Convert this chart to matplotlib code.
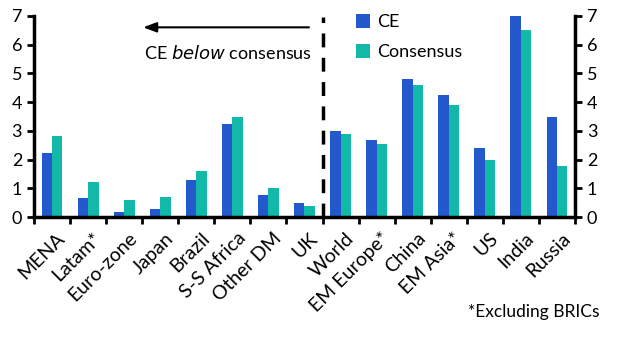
import matplotlib.pyplot as plt
import numpy as np

plt.rcParams['font.family'] = ['Lato', 'DejaVu Sans']

categories = ['MENA', 'Latam*', 'Euro-zone', 'Japan', 'Brazil', 'S-S Africa', 'Other DM', 'UK',
              'World', 'EM Europe*', 'China', 'EM Asia*', 'US', 'India', 'Russia']
ce = [2.22, 0.66, 0.17, 0.28, 1.29, 3.23, 0.77, 0.49,
      2.99, 2.68, 4.80, 4.24, 2.40, 7.0, 3.48]
consensus = [2.82, 1.22, 0.59, 0.70, 1.60, 3.48, 1.01, 0.38,
             2.89, 2.54, 4.59, 3.89, 1.98, 6.50, 1.77]

CE_COL = '#2359cd'
CONS_COL = '#12b8a8'

fig = plt.figure(figsize=(6.17, 3.37), dpi=100)
ax = fig.add_axes([0.055, 0.356, 0.877, 0.597])

x = np.arange(len(categories))
w = 0.29
ax.bar(x - w / 2, ce, w, color=CE_COL, label='CE')
ax.bar(x + w / 2, consensus, w, color=CONS_COL, label='Consensus')

ax.set_xlim(-0.5, len(categories) - 0.5)
ax.set_ylim(0, 7)
ax.set_yticks(range(8))

# category ticks sit between the groups
ax.set_xticks(np.arange(-0.5, len(categories)), minor=False)
ax.set_xticklabels([])
ax.set_xticks(x + 0.12, minor=True)
ax.set_xticklabels(categories, minor=True, rotation=45, ha='right',
                   rotation_mode='anchor', fontsize=14)
ax.tick_params(axis='x', which='minor', length=0, pad=9)
ax.tick_params(axis='x', which='major', length=5, width=2, direction='out')
ax.tick_params(axis='y', length=5, width=2, labelsize=13, left=True, right=True,
               labelleft=True, labelright=True)

for side in ['left', 'right', 'bottom']:
    ax.spines[side].set_linewidth(2.5)
ax.spines['top'].set_visible(False)

# divider between the two halves
ax.plot([7.5, 7.5], [0, 6.95], color='black', lw=2.5, ls=(0, (4, 3)), clip_on=False)

ax.annotate('', xy=(2.45, 6.6), xytext=(7.2, 6.6),
            arrowprops=dict(arrowstyle='-|>,head_length=0.8,head_width=0.3',
                            color='black', lw=1.5))
ax.text(7.2, 5.7, 'CE $\\it{below}$ consensus', ha='right', va='center', fontsize=13)

ax.legend(loc='upper left', bbox_to_anchor=(0.565, 1.09), frameon=False, fontsize=13,
          handlelength=0.8, handleheight=0.8, handletextpad=0.4, labelspacing=0.75)

fig.text(0.972, 0.075, '*Excluding BRICs', ha='right', va='center', fontsize=12.5)

fig.savefig('out.png', dpi=100)
